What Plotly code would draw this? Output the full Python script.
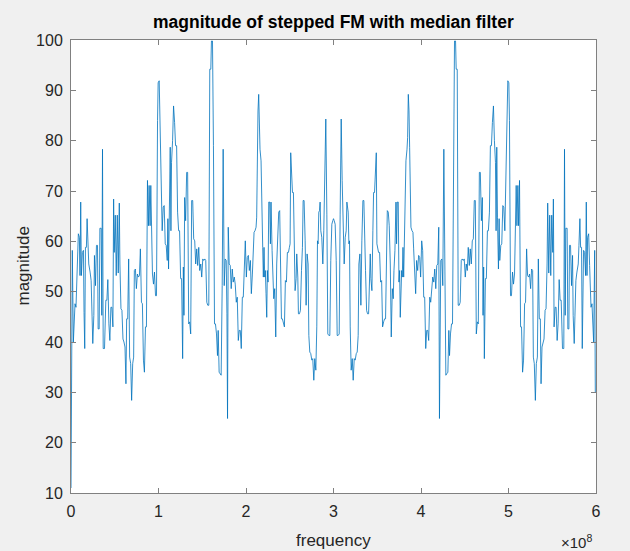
import plotly.graph_objects as go

# ---- data (frequency in MHz, magnitude) ----
freq_left_mhz = [
    0, 0.8, 1.5, 2.7, 4.6, 5.7, 7.3, 8.4, 9.6, 10.3, 11.1, 11.9, 13.0, 14.2, 14.9, 15.7,
    16.5, 17.6, 18.4, 19.5, 20.3, 21.8, 23.0, 24.1, 24.9, 26.1, 26.8, 28.0, 29.1, 30.3,
    31.0, 32.2, 33.0, 34.5, 35.2, 36.0, 36.8, 38.3, 39.8, 41.0, 42.1, 43.3, 44.4, 45.6,
    46.7, 47.9, 48.7, 49.4, 50.6, 51.7, 52.9, 54.0, 55.2, 55.9, 57.1, 58.2, 59.4, 60.5,
    61.7, 62.8, 63.6, 64.8, 65.9, 67.0, 68.2, 69.3, 70.5, 71.6, 72.4, 73.6, 74.7, 75.9,
    77.0, 78.2, 79.3, 80.5, 81.6, 82.8, 83.9, 85.1, 86.2, 87.4, 88.5, 89.3, 90.4, 91.2,
    92.0, 93.1, 94.3, 95.4, 96.6, 97.7, 98.9, 99.6, 100.8, 101.9, 103.1, 104.2, 105.4,
    106.5, 107.7, 108.8, 110.0, 110.7, 111.5, 112.6, 113.4, 114.2, 114.9, 116.1, 117.2,
    118.4, 119.5, 120.7, 121.8, 123.0, 124.1, 125.3, 126.4, 127.6, 128.4, 129.1, 129.9,
    131.0, 132.2, 133.3, 134.5, 135.6, 136.8, 137.9, 139.1, 140.2, 141.4, 142.5, 143.7,
    144.8, 146.0, 147.1, 148.3, 149.4, 150.6, 151.7, 152.9, 154.0, 155.2, 156.3, 157.5,
    158.6, 159.8, 160.5, 161.7, 162.8, 164.0, 165.1, 166.3, 167.4, 168.2, 169.3, 170.5,
    171.6, 172.8, 173.9, 175.1, 176.2, 177.4, 178.2, 178.9, 179.7, 180.8, 182.0, 183.1,
    184.3, 185.4, 186.6, 187.7, 188.9, 190.0, 191.2, 192.3, 193.5, 194.6, 195.8, 196.9,
    198.1, 199.2, 200.4, 201.5, 202.7, 203.8, 205.0, 206.1, 207.3, 208.4, 209.2, 210.3,
    211.5, 212.2, 213.0, 213.7, 214.5, 215.3, 216.0, 217.2, 217.9, 219.1, 219.8, 220.6,
    221.4, 222.1, 222.9, 223.7, 224.4, 225.2, 226.0, 227.1, 227.9, 228.6, 229.8, 230.9,
    231.7, 232.8, 234.0, 235.1, 236.3, 237.4, 238.5, 239.3, 240.5, 241.6, 242.7, 243.9,
    245.0, 246.2, 247.3, 248.5, 249.6, 250.4, 251.1, 252.3, 253.1, 254.2, 255.0, 256.1,
    257.3, 258.0, 259.2, 259.9, 261.1, 262.2, 263.4, 264.5, 265.3, 266.4, 267.6, 268.7,
    269.8, 271.0, 271.8, 272.9, 274.0, 275.2, 276.3, 277.5, 278.6, 279.8, 280.9, 281.7,
    282.4, 283.2, 284.0, 284.7, 285.5, 286.6, 287.8, 288.9, 290.1, 291.2, 292.4, 293.5,
    294.7, 295.8, 296.9, 298.1, 299.2, 300.0,
]
mag_left = [
    11.0, 30.0, 58.2, 40.0, 47.6, 46.9, 55.2, 61.5, 60.8, 53.2, 67.8, 53.2, 57.8, 58.2, 45.9, 38.7,
    58.8, 58.8, 64.5, 59.2, 55.5, 53.9, 52.2, 45.0, 39.7, 45.3, 57.2, 51.2, 59.2, 59.2,
    42.6, 42.6, 62.6, 62.6, 45.3, 78.3, 38.7, 38.7, 48.3, 48.3, 52.4, 43.6, 40.3, 46.9,
    46.9, 43.0, 68.4, 57.8, 65.2, 53.2, 65.2, 53.7, 67.6, 55.5, 46.6, 46.3, 40.6, 40.0,
    39.0, 31.7, 44.6, 44.6, 56.5, 37.0, 35.7, 28.4, 35.7, 37.0, 54.2, 54.5, 50.6, 53.5,
    52.9, 53.2, 58.5, 47.9, 47.6, 36.4, 34.0, 43.0, 43.0, 72.1, 63.1, 71.1, 63.1, 71.1,
    64.1, 53.5, 51.5, 53.9, 49.2, 49.2, 84.0, 91.5, 91.9, 84.0, 74.7, 62.1, 66.8,
    67.1, 59.5, 59.2, 56.2, 64.5, 54.5, 64.8, 78.7, 62.1, 75.7, 80.0, 86.9,
    83.6, 79.0, 79.0, 65.8, 62.1, 62.1, 52.6, 52.6, 36.7, 54.9, 45.3, 68.7,
    64.1, 73.7, 73.7, 43.6, 44.0, 41.6, 68.1, 68.1, 60.5, 60.1, 55.5, 58.5,
    55.2, 58.8, 54.2, 55.5, 52.9, 56.5, 56.2, 56.5, 56.2, 47.9, 47.3, 47.3,
    94.2, 94.2, 99.8, 99.8, 79.0, 43.6, 43.6, 41.6, 37.3, 42.3, 34.0, 33.7,
    33.4, 51.2, 78.3, 51.2, 56.5, 56.2, 45.6, 24.8, 62.8, 55.5, 55.2, 50.6,
    54.5, 51.9, 52.9, 51.5, 47.9, 48.9, 40.3, 42.3, 42.3, 38.7, 48.9, 48.9,
    58.2, 60.1, 52.9, 56.8, 57.2, 54.2, 56.2, 49.6, 53.5, 58.5, 61.8, 62.1,
    62.8, 64.8, 78.7, 85.9, 89.2, 80.6, 78.3, 76.0, 66.4, 58.8, 52.9, 58.8,
    52.9, 54.2, 49.6, 44.9, 54.2, 51.9, 67.8, 67.8, 59.5, 67.8, 58.2, 54.2,
    48.6, 50.6, 41.0, 55.5, 63.1, 65.8, 66.1, 54.9, 44.6, 44.6, 44.0, 43.0,
    52.2, 51.9, 57.8, 57.8, 58.8, 59.5, 77.6, 72.1, 69.7, 69.7, 62.1, 50.2,
    52.6, 57.5, 52.9, 45.6, 45.6, 46.3, 54.2, 58.8, 68.1, 68.1, 60.1, 47.3,
    57.5, 55.5, 41.3, 38.0, 37.7, 36.4, 36.7, 32.4, 36.7, 34.4, 43.0, 60.1,
    59.5, 65.8, 66.1, 67.8, 62.1, 60.8, 55.5, 62.1, 72.1, 84.3, 65.4, 41.6,
    41.3, 41.3, 56.2, 63.4, 64.1, 64.5,
]
freq_right_mhz = [
    300.8, 301.9, 303.1, 304.2, 305.3, 306.5, 307.6, 308.8, 309.9, 311.1, 312.2, 313.4,
    314.5, 315.3, 316.0, 316.8, 317.6, 318.3, 319.1, 320.2, 321.4, 322.5, 323.7, 324.8,
    326.0, 327.1, 328.2, 329.0, 330.2, 331.3, 332.4, 333.6, 334.7, 335.5, 336.6, 337.8,
    338.9, 340.1, 340.8, 342.0, 342.7, 343.9, 345.0, 345.8, 346.9, 347.7, 348.9, 349.6,
    350.4, 351.5, 352.7, 353.8, 355.0, 356.1, 357.3, 358.4, 359.5, 360.7, 361.5, 362.6,
    363.7, 364.9, 366.0, 367.2, 368.3, 369.1, 370.2, 371.4, 372.1, 372.9, 374.0, 374.8,
    375.6, 376.3, 377.1, 377.9, 378.6, 379.4, 380.2, 380.9, 382.1, 382.8, 384.0, 384.7,
    385.5, 386.3, 387.0, 387.8, 388.5, 389.7, 390.8, 391.6, 392.7, 393.9, 395.0, 396.2,
    397.3, 398.5, 399.6, 400.8, 401.9, 403.1, 404.2, 405.4, 406.5, 407.7, 408.8, 410.0,
    411.1, 412.3, 413.4, 414.6, 415.7, 416.9, 418.0, 419.2, 420.3, 421.1, 421.8, 422.6,
    423.8, 424.9, 426.1, 427.2, 428.4, 429.5, 430.7, 431.8, 432.6, 433.7, 434.9, 436.0,
    437.2, 438.3, 439.5, 440.2, 441.4, 442.5, 443.7, 444.8, 446.0, 447.1, 448.3, 449.4,
    450.6, 451.7, 452.9, 454.0, 455.2, 456.3, 457.5, 458.6, 459.8, 460.9, 462.1, 463.2,
    464.4, 465.5, 466.7, 467.8, 469.0, 470.1, 470.9, 471.6, 472.4, 473.6, 474.7, 475.9,
    477.0, 478.2, 479.3, 480.5, 481.6, 482.8, 483.9, 485.1, 485.8, 486.6, 487.4, 488.5,
    489.3, 490.0, 491.2, 492.3, 493.5, 494.6, 495.8, 496.9, 498.1, 499.2, 500.4, 501.1,
    502.3, 503.4, 504.6, 505.7, 506.9, 508.0, 508.8, 509.6, 510.7, 511.5, 512.6, 513.8,
    514.9, 516.1, 517.2, 518.4, 519.5, 520.7, 521.8, 523.0, 524.1, 525.3, 526.4, 527.6,
    528.4, 529.5, 530.7, 531.8, 533.0, 534.1, 535.2, 536.4, 537.2, 538.3, 539.5, 540.6,
    541.8, 542.9, 544.1, 544.8, 546.0, 547.1, 548.3, 549.4, 550.6, 551.3, 552.1, 553.3,
    554.4, 555.6, 556.7, 557.9, 559.0, 560.2, 561.7, 563.2, 564.0, 564.8, 565.5, 567.0,
    567.8, 569.0, 569.7, 570.9, 572.0, 573.2, 573.9, 575.1, 575.9, 577.0, 578.2, 579.7,
    580.5, 581.6, 582.4, 583.5, 584.3, 585.1, 585.8, 587.0, 588.1, 588.9, 589.7, 590.4,
    591.6, 592.7, 594.3, 595.4, 597.3, 598.5, 599.2,
]
mag_right = [
    64.1, 63.4, 56.2, 41.3, 41.3, 41.6, 65.4, 84.3, 72.1, 62.1, 55.5, 60.8,
    62.1, 67.8, 66.1, 65.8, 59.5, 60.1, 43.0, 34.4, 36.7, 32.4, 36.7, 36.4,
    37.7, 38.0, 41.3, 55.5, 57.5, 47.3, 60.1, 68.1, 68.1, 58.8, 54.2, 46.3,
    45.6, 45.6, 52.9, 57.5, 52.6, 50.2, 62.1, 69.7, 69.7, 72.1, 77.6, 59.5,
    58.8, 57.8, 57.8, 51.9, 52.2, 43.0, 44.0, 44.6, 44.6, 54.9, 66.1, 65.8,
    63.1, 55.5, 41.0, 50.6, 48.6, 54.2, 58.2, 67.8, 59.5, 67.8, 67.8, 51.9,
    54.2, 44.9, 49.6, 54.2, 52.9, 58.8, 52.9, 58.8, 66.4, 76.0, 78.3, 80.6,
    89.2, 85.9, 78.7, 64.8, 62.8, 62.1, 61.8, 58.5, 53.5, 49.6, 56.2, 54.2,
    57.2, 56.8, 52.9, 60.1, 58.2, 48.9, 48.9, 38.7, 42.3, 42.3, 40.3, 48.9,
    47.9, 51.5, 52.9, 51.9, 54.5, 50.6, 55.2, 55.5, 62.8, 24.8, 45.6, 56.2,
    56.5, 51.2, 78.3, 51.2, 33.4, 33.7, 34.0, 42.3, 37.3, 41.6, 43.6, 43.6,
    79.0, 99.8, 99.8, 94.2, 94.2, 47.3, 47.3, 47.9, 56.2, 56.5, 56.2, 56.5,
    52.9, 55.5, 54.2, 58.8, 55.2, 58.5, 55.5, 60.1, 60.5, 68.1, 68.1, 41.6,
    44.0, 43.6, 73.7, 73.7, 64.1, 68.7, 45.3, 54.9, 36.7, 52.6, 52.6, 62.1,
    62.1, 65.8, 79.0, 79.0, 83.6, 86.9, 80.0, 75.7, 62.1, 78.7, 64.8, 54.5,
    64.5, 56.2, 59.2, 59.5, 67.1, 66.8, 62.1, 74.7, 84.0, 91.9, 91.5, 84.0,
    49.2, 49.2, 53.9, 51.5, 53.5, 64.1, 71.1, 63.1, 71.1, 63.1, 72.1, 43.0,
    43.0, 34.0, 36.4, 47.6, 47.9, 58.5, 53.2, 52.9, 53.5, 50.6, 54.5, 54.2,
    37.0, 35.7, 28.4, 35.7, 37.0, 56.5, 44.6, 44.6, 31.7, 39.0, 40.0, 40.6,
    46.3, 46.6, 55.5, 67.6, 53.7, 65.2, 53.2, 65.2, 57.8, 68.4, 43.0, 46.9,
    46.9, 40.3, 43.6, 52.4, 48.3, 48.3, 38.7, 38.7, 78.3, 45.3, 62.6, 62.6,
    42.6, 42.6, 59.2, 59.2, 51.2, 57.2, 45.3, 39.7, 45.0, 52.2, 53.9, 55.5,
    59.2, 64.5, 58.8, 58.8, 38.7, 45.9, 58.2, 57.8, 53.2, 67.8, 53.2, 60.8,
    61.5, 55.2, 46.9, 47.6, 40.0, 58.2, 30.0,
]

x_tick_vals = [0, 1e8, 2e8, 3e8, 4e8, 5e8, 6e8]
x_tick_text = ["0", "1", "2", "3", "4", "5", "6"]
y_tick_vals = [10, 20, 30, 40, 50, 60, 70, 80, 90, 100]

freq_hz = [f * 1e6 for f in freq_left_mhz + freq_right_mhz]
magnitude = mag_left + mag_right

FONT = "Liberation Sans, Arial, sans-serif"
AXIS_COLOR = "#808080"
TEXT_COLOR = "#262626"

fig = go.Figure()
fig.add_trace(go.Scatter(
    x=freq_hz, y=magnitude, mode="lines",
    line=dict(color="#0072BD", width=0.8),
    hoverinfo="skip", showlegend=False,
))

axis_common = dict(
    showgrid=False, zeroline=False, showline=True, linecolor=AXIS_COLOR, linewidth=1,
    mirror="ticks", ticks="inside", ticklen=5, tickcolor=AXIS_COLOR, tickwidth=1,
    tickfont=dict(family=FONT, size=16, color=TEXT_COLOR),
)

fig.update_layout(
    width=630, height=551,
    margin=dict(l=71, r=34, t=40, b=58),
    paper_bgcolor="#F0F0F0", plot_bgcolor="#FFFFFF",
    xaxis=dict(range=[0, 6e8], tickvals=x_tick_vals, ticktext=x_tick_text,
               ticklabelstandoff=4, **axis_common),
    yaxis=dict(range=[10, 100], tickvals=y_tick_vals,
               ticklabelstandoff=4, **axis_common),
    annotations=[
        dict(text="<b>magnitude of stepped FM with median filter</b>",
             xref="paper", yref="paper", x=0.5, y=1.0, yshift=18,
             xanchor="center", yanchor="middle", showarrow=False,
             font=dict(family=FONT, size=17.5, color="#000000")),
        dict(text="frequency", xref="paper", yref="paper", x=0.5, y=0, yshift=-47,
             xanchor="center", yanchor="middle", showarrow=False,
             font=dict(family=FONT, size=17, color=TEXT_COLOR)),
        dict(text="magnitude", xref="paper", yref="paper", x=0, xshift=-48, y=0.5,
             textangle=-90, xanchor="center", yanchor="middle", showarrow=False,
             font=dict(family=FONT, size=17, color=TEXT_COLOR)),
        dict(text="\u00d710<sup>8</sup>", xref="paper", yref="paper", x=1, xshift=-2,
             y=0, yshift=-48, xanchor="right", yanchor="middle", showarrow=False,
             font=dict(family=FONT, size=15, color=TEXT_COLOR)),
    ],
)

fig.write_html(
    "out.html",
    config={"displayModeBar": False, "staticPlot": True},
    post_script="document.body.style.margin='0';document.body.style.overflow='hidden';"
                "document.body.style.background='#F0F0F0';",
)
